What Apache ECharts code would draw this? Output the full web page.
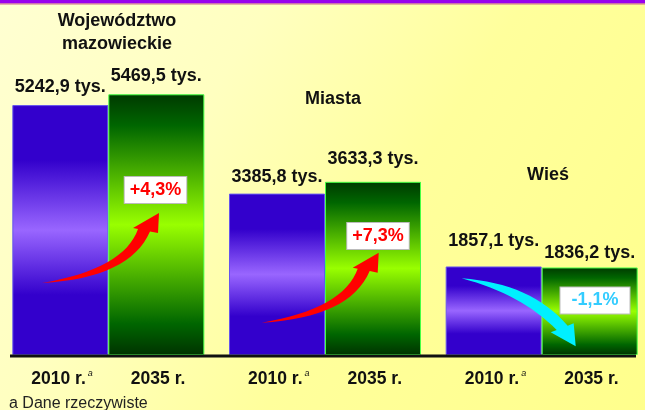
<!DOCTYPE html>
<html>
<head>
<meta charset="utf-8">
<style>
  html, body { margin: 0; padding: 0; }
  #chart { width: 645px; height: 410px; }
</style>
<script src="https://cdn.jsdelivr.net/npm/echarts@6/dist/echarts.min.js"></script>
</head>
<body>
<div id="chart"></div>
<script>
// data
const groups = ['Województwo\nmazowieckie', 'Miasta', 'Wieś'];
const years = ['2010 r.', '2035 r.'];
const pop2010 = [5242.9, 3385.8, 1857.1];
const pop2035 = [5469.5, 3633.3, 1836.2];
const changes = ['+4,3%', '+7,3%', '-1,1%'];
const footnote = 'a Dane rzeczywiste';

const FONT = "'Liberation Sans', Arial, sans-serif";
const fmt = v => v.toFixed(1).replace('.', ',') + ' tys.';

function vgrad(stops) {
  return {
    type: 'linear', x: 0, y: 0, x2: 0, y2: 1,
    colorStops: stops.map(s => ({ offset: s[0], color: s[1] })),
  };
}

const blueFill = vgrad([[0, '#3300cc'], [0.22, '#3300cc'], [0.5, '#9966ff'], [0.76, '#3300cc'], [1, '#3300cc']]);
const greenFill = vgrad([[0, '#003a00'], [0.12, '#006600'], [0.5, '#99ff00'], [0.88, '#006600'], [1, '#003300']]);

// label lift above each bar (px)
const liftBlue = [9, 8, 16];
const liftGreen = [9, 14, 5];

// arrow outline: quadratic edge, head, quadratic edge back to tail
function quad(p0, c, p1, n) {
  const pts = [];
  for (let k = 1; k <= n; k++) {
    const t = k / n, u = 1 - t;
    pts.push([u * u * p0[0] + 2 * u * t * c[0] + t * t * p1[0],
              u * u * p0[1] + 2 * u * t * c[1] + t * t * p1[1]]);
  }
  return pts;
}
function arrow(ox, oy, c1, e1, head, e2, c2) {
  let pts = [[0, 0]].concat(quad([0, 0], c1, e1, 16), head, [e2], quad(e2, c2, [0, 0], 16));
  return pts.map(p => [p[0] + ox, p[1] + oy]);
}
const upArrow = (ox, oy) => arrow(ox, oy, [82, -14], [96, -54], [[91, -55], [117, -70], [116, -50]], [108, -51.6], [88, -5]);
const downArrow = (ox, oy) => arrow(ox, oy, [70, 5], [106, 47.5], [[112, 45], [114, 68], [89, 54]], [95, 51.7], [60, 16]);

const valueLabel = {
  show: true,
  position: 'top',
  formatter: p => fmt(p.value),
  fontFamily: FONT,
  fontSize: 18,
  fontWeight: 'bold',
  color: '#111',
};

const boxStyle = (txt, col, pad) => ({
  text: txt, fill: col, font: 'bold 18px ' + FONT, align: 'center', verticalAlign: 'middle',
  backgroundColor: '#ffffff', borderColor: '#bbbbbb', borderWidth: 1, padding: pad,
});

const chart = echarts.init(document.getElementById('chart'));

const option = {
  backgroundColor: {
    type: 'linear', x: 0, y: 0, x2: 1, y2: 1,
    colorStops: [
      { offset: 0, color: '#ffffd2' },
      { offset: 0.3, color: '#ffffc0' },
      { offset: 0.58, color: '#ffff9c' },
      { offset: 1, color: '#ffff8c' },
    ],
  },
  animation: false,
  title: [
    { text: groups[0], left: 117, top: 10, textAlign: 'center', padding: 0,
      textStyle: { fontFamily: FONT, fontSize: 18, fontWeight: 'bold', color: '#111', lineHeight: 23 } },
    { text: groups[1], left: 333, top: 88, textAlign: 'center', padding: 0,
      textStyle: { fontFamily: FONT, fontSize: 18, fontWeight: 'bold', color: '#111', lineHeight: 23 } },
    { text: groups[2], left: 548, top: 164, textAlign: 'center', padding: 0,
      textStyle: { fontFamily: FONT, fontSize: 18, fontWeight: 'bold', color: '#111', lineHeight: 23 } },
    { text: footnote, left: 9, top: 395, padding: 0,
      textStyle: { fontFamily: FONT, fontSize: 16, fontWeight: 'normal', color: '#222', lineHeight: 18 } },
  ],
  grid: { left: 0, right: -5, top: 69, bottom: 55, outerBoundsMode: 'none', containLabel: false },
  xAxis: {
    type: 'category',
    data: groups,
    axisLine: { show: false },
    axisTick: { show: false },
    axisLabel: {
      interval: 0,
      margin: 14,
      formatter: () => '{y|' + years[0] + '}{s|a}{g|}{y|' + years[1] + '}',
      rich: {
        y: { fontFamily: FONT, fontSize: 17.5, fontWeight: 'bold', color: '#111', lineHeight: 20 },
        s: { fontFamily: FONT, fontSize: 9, fontStyle: 'italic', color: '#111', lineHeight: 10,
             verticalAlign: 'top', padding: [0, 0, 0, 2] },
        g: { width: 38 },
      },
    },
  },
  yAxis: { type: 'value', min: 0, max: 6000, show: false },
  series: [
    {
      name: years[0],
      type: 'bar',
      barWidth: 96,
      barGap: '0%',
      data: pop2010.map((v, i) => ({ value: v, label: { distance: liftBlue[i] } })),
      itemStyle: { color: blueFill, borderColor: '#6655ee', borderWidth: 1 },
      label: valueLabel,
    },
    {
      name: years[1],
      type: 'bar',
      barWidth: 96,
      barGap: '0%',
      data: pop2035.map((v, i) => ({ value: v, label: { distance: liftGreen[i] } })),
      itemStyle: { color: greenFill, borderColor: '#44ff44', borderWidth: 1 },
      label: valueLabel,
    },
  ],
  graphic: [
    // top band
    { type: 'rect', shape: { x: 0, y: 0, width: 645, height: 3.5 }, style: { fill: '#9900ee' }, z: 10 },
    { type: 'rect', shape: { x: 0, y: 3.5, width: 645, height: 1 }, style: { fill: '#cc6688' }, z: 10 },
    // base line
    { type: 'rect', shape: { x: 10, y: 354.5, width: 626, height: 3 }, style: { fill: '#111' }, z: 10 },
    // arrows
    { type: 'polygon', z: 10, shape: { points: upArrow(42, 283) }, style: { fill: '#ff0000' } },
    { type: 'polygon', z: 10, shape: { points: upArrow(261.7, 322.7) }, style: { fill: '#ff0000' } },
    { type: 'polygon', z: 10, shape: { points: downArrow(461.7, 278.3) }, style: { fill: '#00f0ff' } },
    // change boxes
    { type: 'text', x: 155.5, y: 190, z: 11, style: boxStyle(changes[0], '#ff0000', [4, 5, 4, 5]) },
    { type: 'text', x: 378, y: 236, z: 11, style: boxStyle(changes[1], '#ff0000', [4, 5, 4, 5]) },
    { type: 'text', x: 595, y: 300.5, z: 11, style: boxStyle(changes[2], '#33ccff', [4, 11, 4, 11]) },
  ],
};

chart.setOption(option);
</script>
</body>
</html>
